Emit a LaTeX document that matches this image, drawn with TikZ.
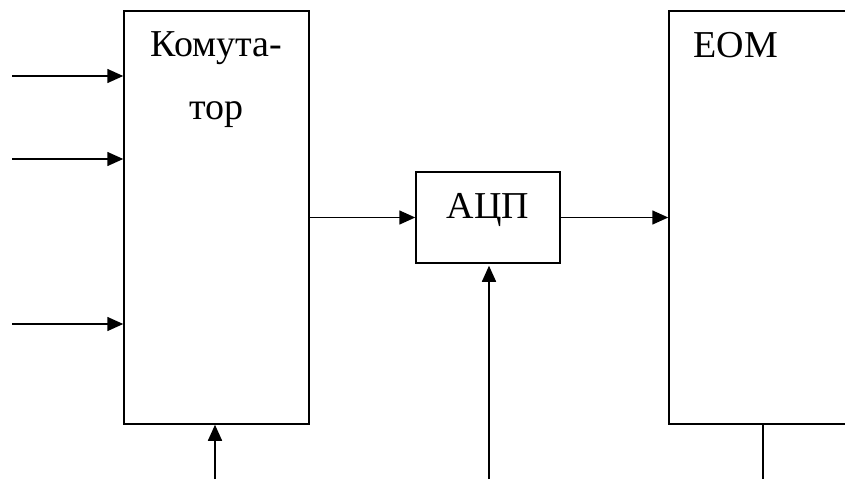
\documentclass[tikz,border=0pt]{standalone}
\usepackage{fontspec}
\setmainfont{Liberation Serif}
\usetikzlibrary{arrows.meta}
\begin{document}
\begin{tikzpicture}[
    x=1pt, y=-1pt,
    block/.style={rectangle, draw, line width=1.5pt, inner sep=0pt},
    arr/.style={-{Triangle[length=16pt, width=14pt]}, line width=1.6pt},
    wire/.style={line width=1.5pt},
    font=\fontsize{38}{63}\selectfont
]
    \useasboundingbox (0,0) rectangle (845,479);
    \clip (0,0) rectangle (845,479);

    % blocks
    \node[block, minimum width=185pt, minimum height=413pt] (komm) at (216.5,217.5) {};
    \node[anchor=north, align=center] (kommtext) at ([yshift=-17.5pt]komm.north) {Комута-\\тор};

    \node[block, minimum width=144pt, minimum height=91pt] (adc) at (488,217.5) {};
    \node[anchor=base] (adctext) at (488,218) {АЦП};

    \node[block, minimum width=250pt, minimum height=413pt] (evm) at (794,217.5) {};
    \node[anchor=base west] (evmtext) at (690,57) {ЕОМ};

    % inputs of the switch
    \foreach \y in {76,159,324} {
        \coordinate (in\y) at (12,\y);
        \draw[arr] (in\y) -- (in\y -| komm.west);
    }
    \coordinate (clk) at (215,479);
    \draw[arr] (clk) -- (clk |- komm.south);

    % signal path
    \draw[arr] (komm.east) -- (adc.west);
    \draw[arr] (adc.east) -- (evm.west);

    \coordinate (ctl) at (489,479);
    \draw[arr] (ctl) -- ([yshift=-2pt]ctl |- adc.south);

    \coordinate (out) at (763,479);
    \draw[wire] (out |- evm.south) -- (out);
\end{tikzpicture}
\end{document}
